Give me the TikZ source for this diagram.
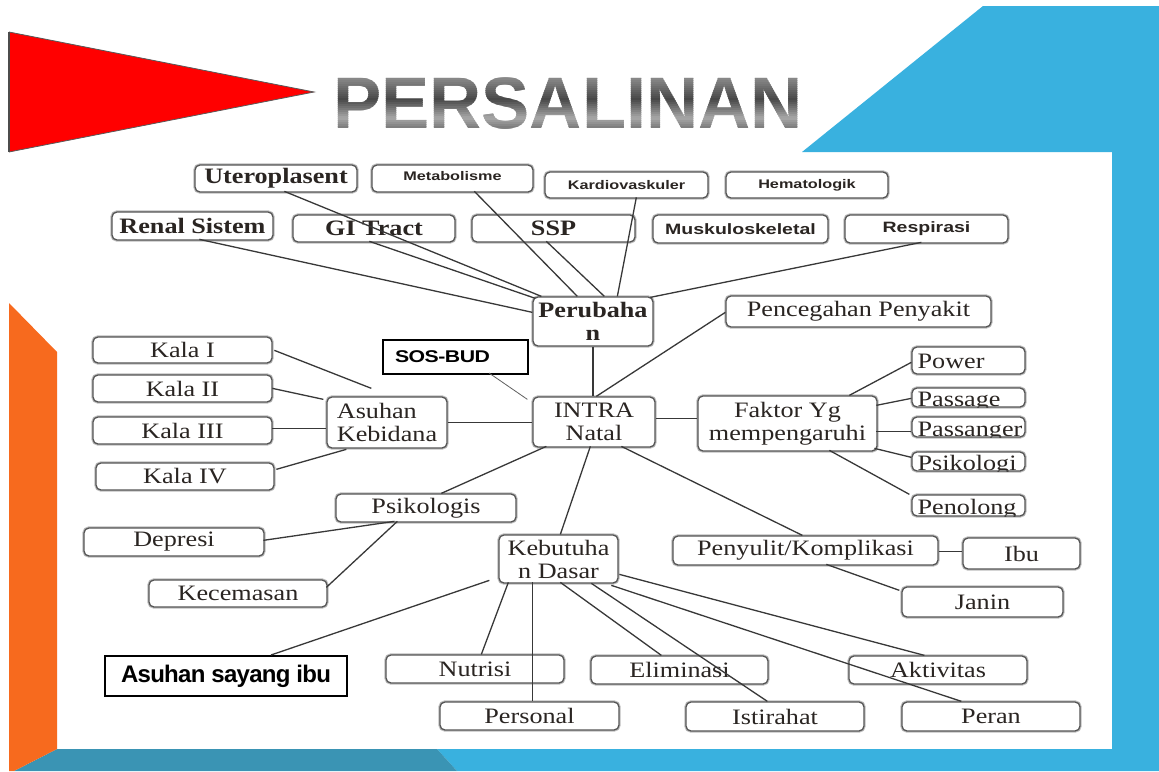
\documentclass[tikz,border=0pt]{standalone}
\usepackage{fontspec}
\setmainfont{Liberation Serif}[FakeStretch=1.19]
\newfontfamily\labelsans{Liberation Sans}[FakeStretch=1.3]
\newfontfamily\sosfont{Liberation Sans}[FakeStretch=1.25, LetterSpace=-3]
\newfontfamily\asifont{Liberation Sans}[LetterSpace=-3]
\newfontfamily\titlesans{Liberation Sans}[FakeStretch=0.99]
\usetikzlibrary{calc}

\definecolor{slideblue}{HTML}{39B1DF}
\definecolor{slideteal}{HTML}{3A94B4}
\definecolor{slideorange}{HTML}{F76A1E}
\definecolor{boxline}{HTML}{555555}
\definecolor{boxhalo}{HTML}{BDBDBD}
\definecolor{linkgray}{HTML}{383838}
\definecolor{labeltext}{HTML}{2A2522}

\tikzset{
  rbox/.style={draw=boxline, line width=1.3pt, rounded corners=5pt, fill=white,
    inner sep=0pt, text=labeltext, align=center,
    font=\fontsize{22}{23}\selectfont,
    preaction={draw=boxhalo, line width=3.4pt}},
  bbox/.style={rbox, font=\fontsize{22}{23}\selectfont\bfseries},
  sbox/.style={rbox, font=\fontsize{12.5}{14}\selectfont\labelsans\bfseries},
  mbox/.style={rbox, font=\fontsize{15}{16}\selectfont\labelsans\bfseries},
  tagbox/.style={draw=black, line width=2pt, fill=white, inner sep=0pt, text=black},
  link/.style={draw=linkgray, line width=1.3pt},
  thinlink/.style={draw=linkgray!80, line width=0.8pt},
  titletext/.style={anchor=base west, inner sep=0pt, font=\fontsize{73}{80}\selectfont\titlesans\bfseries}
}

% rounded box given by its corners (x1,y1)-(x2,y2) in pixel units
\newcommand\boxat[7]{%
  \node[#2, minimum width={#5-#3}, minimum height={#6-#4}] (#1)
    at ({(#3+#5)/2},{(#4+#6)/2}) {#7};}
% rounded box whose label sits on its lower edge and is cut by the frame
\newcommand\clipbox[7]{%
  \node[rbox, minimum width={#5-#3}, minimum height={#6-#4},
    path picture={\node[anchor=base west, inner sep=0pt, minimum width=0pt,
      minimum height=0pt, text=labeltext, align=left,
      font=\fontsize{22}{23}\selectfont] (#1-text)
      at ([xshift=5pt, yshift=#2pt]path picture bounding box.south west) {#7};}]
    (#1) at ({(#3+#5)/2},{(#4+#6)/2}) {};}

\begin{document}
\begin{tikzpicture}[x=1pt, y=-1pt]
\useasboundingbox (0,0) rectangle (1159,771);

% slide background
\fill[white] (0,0) rectangle (1159,771);
\fill[red] (9,32) -- (314,92) -- (9,152) -- cycle;
\draw[gray!70!black, line width=0.8pt] (9,32) -- (314,92) -- (9,152);
\draw[gray!60!black, line width=2pt] (9,32) -- (9,152);
\fill[slideblue] (802,152) -- (983,6) -- (1159,6) -- (1159,771) -- (457,771)
  -- (437,749) -- (1112,749) -- (1112,152) -- cycle;
\fill[slideteal] (57,749) -- (437,749) -- (457,771) -- (14,771) -- cycle;
\fill[slideorange] (9,303) -- (57,352) -- (57,749) -- (14,771) -- (9,771) -- cycle;

% metallic title, painted in thin horizontal bands
\foreach \i in {0,...,27} {
  \pgfmathsetmacro\yy{74+2*\i}
  \pgfmathsetmacro\t{\i/27}
  \pgfmathsetmacro\g{(\t<0.45) ? (42+30*\t/0.45) : ((\t<0.8) ? (72-38*(\t-0.45)/0.35) : (34+20*(\t-0.8)/0.2))}
  \begin{scope}
    \clip (300,\yy) rectangle (830,\yy+2.3);
    \node[titletext, text=black!\g] (title-\i) at (333,128) {PERSALINAN};
  \end{scope}
}

% boxes
\boxat{utero}{bbox}{195}{165}{357}{192}{Uteroplasent}
\boxat{metab}{sbox, text depth=5pt}{372}{165}{533}{192}{Metabolisme}
\boxat{kardio}{sbox}{545}{172}{708}{198}{Kardiovaskuler}
\boxat{hemato}{sbox}{726}{172}{888}{198}{Hematologik}
\boxat{renal}{bbox}{112}{212}{273}{240}{Renal Sistem}
\boxat{gi}{bbox}{293}{215}{455}{242}{GI Tract}
\boxat{ssp}{bbox}{472}{215}{635}{242}{SSP}
\boxat{musk}{mbox}{653}{215}{828}{243}{Muskuloskeletal}
\boxat{resp}{mbox}{845}{215}{1008}{243}{Respirasi}
\boxat{peru}{bbox}{533}{297}{653}{346}{Perubaha\\n}
\boxat{penc}{rbox}{726}{296}{991}{327}{Pencegahan Penyakit}
\boxat{sos}{tagbox, font=\fontsize{17}{18}\selectfont\sosfont\bfseries, text width=121pt, align=left}{383}{340}{528}{374}{SOS-BUD}
\boxat{kala1}{rbox}{93}{337}{272}{363}{Kala I}
\boxat{kala2}{rbox}{93}{375}{272}{402}{Kala II}
\boxat{kala3}{rbox}{93}{417}{272}{444}{Kala III}
\boxat{kala4}{rbox}{96}{463}{274}{490}{Kala IV}
\boxat{asuh}{rbox, align=left}{327}{397}{447}{448}{Asuhan\\Kebidana}
\boxat{intra}{rbox}{533}{397}{655}{447}{INTRA\\Natal}
\boxat{faktor}{rbox}{698}{396}{877}{451}{Faktor Yg\\mempengaruhi}
\clipbox{power}{6}{912}{347}{1025}{374}{Power}
\clipbox{passage}{1}{912}{388}{1025}{407}{Passage}
\clipbox{passanger}{1}{912}{417}{1025}{437}{Passanger}
\clipbox{psikologi}{1}{912}{452}{1025}{471}{Psikologi}
\clipbox{penolong}{2}{912}{495}{1025}{516}{Penolong}
\boxat{psik}{rbox}{336}{494}{516}{522}{Psikologis}
\boxat{depresi}{rbox}{84}{528}{264}{556}{Depresi}
\boxat{kecem}{rbox}{149}{580}{327}{607}{Kecemasan}
\boxat{kebut}{rbox}{499}{535}{618}{583}{Kebutuha\\n Dasar}
\boxat{penyulit}{rbox}{673}{536}{938}{565}{Penyulit/Komplikasi}
\boxat{ibu}{rbox}{963}{538}{1080}{569}{Ibu}
\boxat{janin}{rbox}{902}{587}{1063}{617}{Janin}
\boxat{asi}{tagbox, font=\fontsize{24}{26}\selectfont\asifont\bfseries}{105}{656}{347}{696}{Asuhan sayang ibu}
\boxat{nutrisi}{rbox}{386}{655}{564}{683}{Nutrisi}
\boxat{eliminasi}{rbox}{591}{656}{768}{684}{Eliminasi}
\boxat{aktivitas}{rbox}{849}{656}{1027}{684}{Aktivitas}
\boxat{personal}{rbox}{440}{702}{619}{730}{Personal}
\boxat{istirahat}{rbox}{686}{702}{864}{731}{Istirahat}
\boxat{peran}{rbox}{902}{702}{1080}{731}{Peran}

% connectors into Perubahan
\draw[link] ($(renal.north west)+(88,28)$) -- ($(peru.north west)+(0,16)$);
\draw[link] ($(utero.north west)+(90,27)$) -- ($(peru.north west)+(9,0)$);
\draw[link] ($(gi.north west)+(77,27)$) -- ($(peru.north west)+(3,2)$);
\draw[link] ($(metab.north west)+(103,27)$) -- ($(peru.north west)+(45,0)$);
\draw[link] ($(ssp.north west)+(75,27)$) -- ($(peru.north west)+(72,0)$);
\draw[link] ($(kardio.north west)+(92,26)$) -- ($(peru.north west)+(85,0)$);
\draw[link] ($(resp.north west)+(77,28)$) -- ($(peru.north west)+(118,1)$);

% connectors around INTRA Natal
\draw[link] (peru.south) -- (peru.south |- intra.north);
\draw[link] ($(penc.north west)+(0,17)$) -- ($(intra.north west)+(64,0)$);
\draw[thinlink] ($(sos.north west)+(107,34)$) -- ($(intra.north west)+(-5,3)$);
\draw[link] (asuh.east) -- (asuh.east -| intra.west);
\draw[link] ($(intra.north east)+(0,22)$) -- ($(faktor.north west)+(0,23)$);
\draw[link] ($(intra.north west)+(14,50)$) -- ($(psik.north west)+(106,0)$);
\draw[link] ($(intra.north west)+(58,50)$) -- ($(kebut.north west)+(62,0)$);
\draw[link] ($(intra.north west)+(89,50)$) -- ($(penyulit.north west)+(130,0)$);

% Asuhan Kebidana
\draw[link] ($(kala1.north west)+(182,14)$) -- ($(asuh.north west)+(45,-8)$);
\draw[link] ($(kala2.north west)+(180,14)$) -- ($(asuh.north west)+(-3,3)$);
\draw[link] ($(kala3.north west)+(180,12)$) -- ($(asuh.north west)+(0,32)$);
\draw[link] ($(kala4.north west)+(181,7)$) -- ($(asuh.north west)+(20,53)$);

% Faktor Yg mempengaruhi
\draw[link] ($(faktor.north west)+(152,0)$) -- ($(power.north west)+(0,16)$);
\draw[link] ($(faktor.north west)+(179,10)$) -- ($(passage.north west)+(0,11)$);
\draw[link] ($(faktor.north west)+(179,36)$) -- ($(passanger.north west)+(0,15)$);
\draw[link] ($(faktor.north west)+(177,53)$) -- ($(psikologi.north west)+(0,6)$);
\draw[link] ($(faktor.north west)+(132,55)$) -- ($(penolong.north west)+(-2,0)$);

% Psikologis
\draw[link] ($(psik.north west)+(59,28)$) -- ($(depresi.north west)+(180,13)$);
\draw[link] ($(psik.north west)+(62,28)$) -- ($(kecem.north west)+(178,8)$);

% Kebutuhan Dasar
\draw[link] ($(kebut.north west)+(-9,46)$) -- ($(asi.north west)+(167,0)$);
\draw[link] ($(kebut.north west)+(10,48)$) -- ($(nutrisi.north west)+(96,0)$);
\draw[link] ($(kebut.north west)+(34,48)$) -- ($(personal.north west)+(93,0)$);
\draw[link] ($(kebut.north west)+(62,48)$) -- ($(eliminasi.north west)+(71,0)$);
\draw[link] ($(kebut.north west)+(93,49)$) -- ($(istirahat.north west)+(82,0)$);
\draw[link] ($(kebut.north west)+(121,40)$) -- ($(aktivitas.north west)+(76,0)$);
\draw[link] ($(kebut.north west)+(113,51)$) -- ($(peran.north west)+(60,0)$);

% Penyulit/Komplikasi
\draw[link] ($(penyulit.north west)+(154,29)$) -- ($(janin.north west)+(-2,4)$);
\draw[link] ($(penyulit.north east)+(0,16)$) -- ($(ibu.north west)+(0,14)$);
\end{tikzpicture}
\end{document}
